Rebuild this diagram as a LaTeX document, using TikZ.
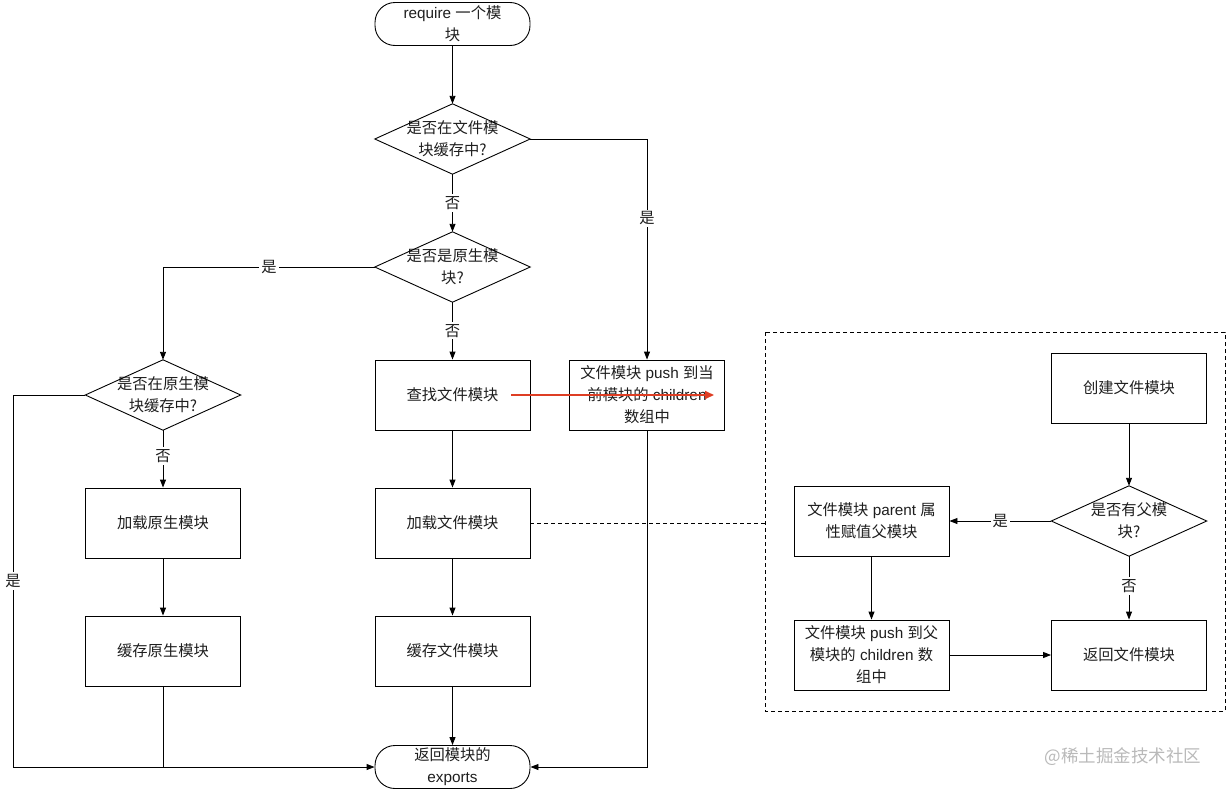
\documentclass[tikz,border=0pt]{standalone}
\usepackage{fontspec}
\setmainfont{Liberation Sans}
\newfontfamily\cjk{Noto Sans CJK SC}
\newcommand{\zh}[1]{{\cjk #1}}
\usetikzlibrary{arrows.meta}
\definecolor{redarrow}{RGB}{222,62,36}
\definecolor{wmark}{RGB}{185,185,185}
\definecolor{txt}{RGB}{30,30,30}
\begin{document}
\begin{tikzpicture}[x=1pt,y=-1pt,
  every node/.style={font=\fontsize{15.3}{22}\selectfont, text=txt},
  box/.style={draw, line width=0.9pt, minimum width=155pt, minimum height=70pt, inner sep=0pt, align=center},
  term/.style={draw, line width=0.9pt, rounded corners=20pt, minimum width=155pt, minimum height=43pt, inner sep=0pt, align=center},
  dia/.style={minimum width=155pt, minimum height=70pt, inner sep=0pt, align=center},
  lbl/.style={fill=white, inner sep=2pt},
  conn/.style={line width=0.9pt},
  arr/.style={line width=0.9pt, -{Triangle[length=8pt,width=6pt]}},
  dashline/.style={line width=0.9pt, dash pattern=on 4pt off 3pt}
]
\useasboundingbox (0,0) rectangle (1226,790);

% main column
\node[term] (start) at (452.5,24) {require \zh{一个模}\\\zh{块}};
\node[dia] (d1) at (452.5,139) {\zh{是否在文件模}\\\zh{块缓存中?}};
\node[dia] (d2) at (452.5,267) {\zh{是否是原生模}\\\zh{块?}};
\node[box] (find) at (452.5,395) {\zh{查找文件模块}};
\node[box] (pushc) at (647,395) {\zh{文件模块} push \zh{到当}\\\zh{前模块的} children\\\zh{数组中}};
\node[box] (loadf) at (452.5,523) {\zh{加载文件模块}};
\node[box] (cachef) at (452.5,651) {\zh{缓存文件模块}};
\node[term] (end) at (452.5,767) {\zh{返回模块的}\\exports};

% left column
\node[dia] (d3) at (163,395) {\zh{是否在原生模}\\\zh{块缓存中?}};
\node[box] (loadn) at (163,523) {\zh{加载原生模块}};
\node[box] (cachen) at (163,651) {\zh{缓存原生模块}};

% diamond outlines
\foreach \d in {d1,d2,d3}{
  \draw[conn] (\d.north) -- (\d.east) -- (\d.south) -- (\d.west) -- cycle;
}

% connectors main
\draw[arr] (start) -- (d1.north);
\draw[arr] (d1.south) -- node[lbl, pos=0.5] {\zh{否}} (d2.north);
\draw[arr] (d2.south) -- node[lbl, pos=0.5] {\zh{否}} (find.north);
\draw[arr] (d1.east) -| node[lbl, pos=0.68] {\zh{是}} (pushc.north);
\draw[arr] (find) -- (loadf);
\draw[arr] (loadf) -- (cachef);
\draw[arr] (cachef) -- (end.north);
\draw[arr] (pushc.south) |- (end.east);

% connectors left
\draw[arr] (d2.west) -| node[lbl, pos=0.25] {\zh{是}} (d3.north);
\draw[arr] (d3.south) -- node[lbl, pos=0.45] {\zh{否}} (loadn.north);
\draw[arr] (loadn) -- (cachen);
\coordinate (lx) at (13,395);
\coordinate (ly) at (13,767);
\draw[conn] (d3.west) -- (lx) -- node[lbl, pos=0.5] {\zh{是}} (ly);
\draw[arr] (ly) -- (end.west);
\draw[conn] (cachen.south) -- (cachen.south |- ly);

% red arrow
\coordinate (rs) at (511,395);
\coordinate (re) at (714,395);
\draw[line width=1.8pt, redarrow, -{Triangle[length=9pt,width=8pt]}] (rs) -- (re);

% dashed frame
\draw[dashline] (765,332) rectangle (1225,711);
\coordinate (fl) at (765,523);
\draw[dashline] (loadf.east) -- (fl);

% right sub-flow
\node[box] (create) at (1129,388) {\zh{创建文件模块}};
\node[dia] (d4) at (1129,521) {\zh{是否有父模}\\\zh{块?}};
\draw[conn] (d4.north) -- (d4.east) -- (d4.south) -- (d4.west) -- cycle;
\node[box] (parent) at (871.5,521) {\zh{文件模块} parent \zh{属}\\\zh{性赋值父模块}};
\node[box] (pushp) at (871.5,655) {\zh{文件模块} push \zh{到父}\\\zh{模块的} children \zh{数}\\\zh{组中}};
\node[box] (retf) at (1129,655) {\zh{返回文件模块}};

\draw[arr] (create) -- (d4.north);
\draw[arr] (d4.west) -- node[lbl, pos=0.5] {\zh{是}} (parent.east);
\draw[arr] (d4.south) -- node[lbl, pos=0.47] {\zh{否}} (retf.north);
\draw[arr] (parent) -- (pushp);
\draw[arr] (pushp) -- (retf);

% watermark
\node[text=wmark, font=\fontsize{17.5}{19}\selectfont] (wm) at (1123,757) {\zh{@稀土掘金技术社区}};
\end{tikzpicture}
\end{document}
